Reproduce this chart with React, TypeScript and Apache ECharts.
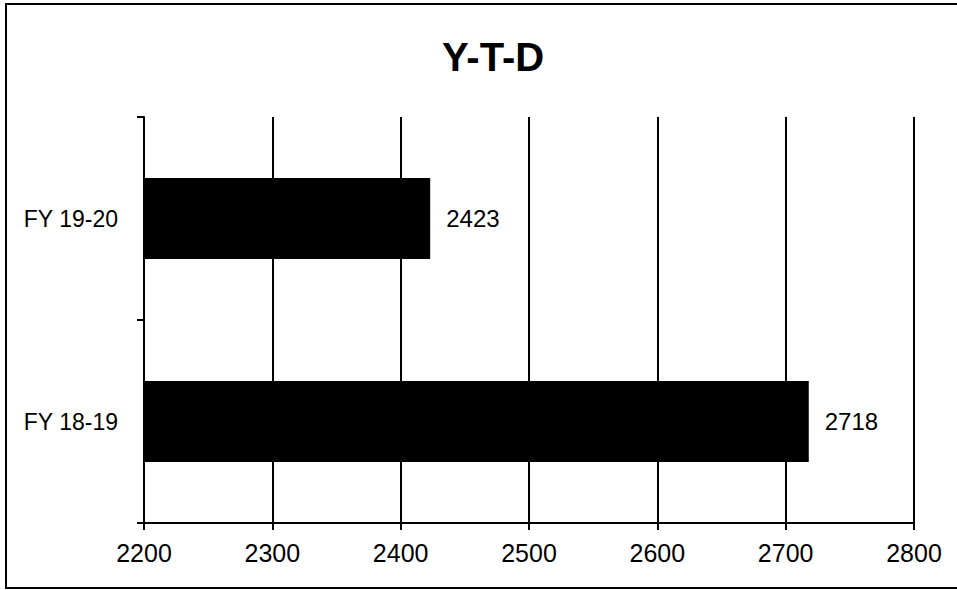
import React, { useEffect, useRef } from "react";
import * as echarts from "echarts";

const categories = ["FY 18-19", "FY 19-20"];
const values = [2718, 2423];
const xMin = 2200;
const xMax = 2800;
const xInterval = 100;
const titleText = "Y-T-D";

export default function App() {
  const ref = useRef<HTMLDivElement>(null);
  useEffect(() => {
    document.body.style.margin = "0";
    const chart = echarts.init(ref.current!, null, { renderer: "svg" });
    const font = "'Liberation Sans', Arial, sans-serif";
    chart.setOption({
      animation: false,
      backgroundColor: "#ffffff",
      title: {
        text: titleText,
        left: 488,
        top: 32,
        textAlign: "center",
        textStyle: { fontFamily: font, fontSize: 40, fontWeight: "bold", color: "#000" },
      },
      graphic: [
        {
          type: "rect",
          shape: { x: 6, y: 4, width: 970, height: 584 },
          style: { fill: "none", stroke: "#000", lineWidth: 2 },
          silent: true,
          z: 100,
        },
      ],
      grid: { left: 144, right: 43, top: 117, bottom: 67, containLabel: false },
      xAxis: {
        type: "value",
        min: xMin,
        max: xMax,
        interval: xInterval,
        axisLine: { show: true, lineStyle: { color: "#000", width: 2 } },
        axisTick: { show: true, length: 7, lineStyle: { color: "#000", width: 2 } },
        splitLine: { show: true, lineStyle: { color: "#000", width: 2 } },
        axisLabel: {
          color: "#000",
          fontFamily: font,
          fontSize: 25,
          margin: 17,
          formatter: (v: number) => String(v),
        },
      },
      yAxis: {
        type: "category",
        data: categories,
        axisLine: { show: true, lineStyle: { color: "#000", width: 2 } },
        axisTick: { show: true, length: 7, alignWithLabel: false, lineStyle: { color: "#000", width: 2 } },
        axisLabel: { color: "#000", fontFamily: font, fontSize: 23, margin: 26 },
      },
      series: [
        {
          type: "bar",
          data: values,
          barWidth: "40%",
          itemStyle: { color: "#000" },
          label: {
            show: true,
            position: "right",
            distance: 16,
            color: "#000",
            fontFamily: font,
            fontSize: 24,
          },
        },
      ],
    });
    return () => chart.dispose();
  }, []);
  return (
    <div
      ref={ref}
      style={{ position: "fixed", left: 0, top: 0, width: 957, height: 590 }}
    />
  );
}
